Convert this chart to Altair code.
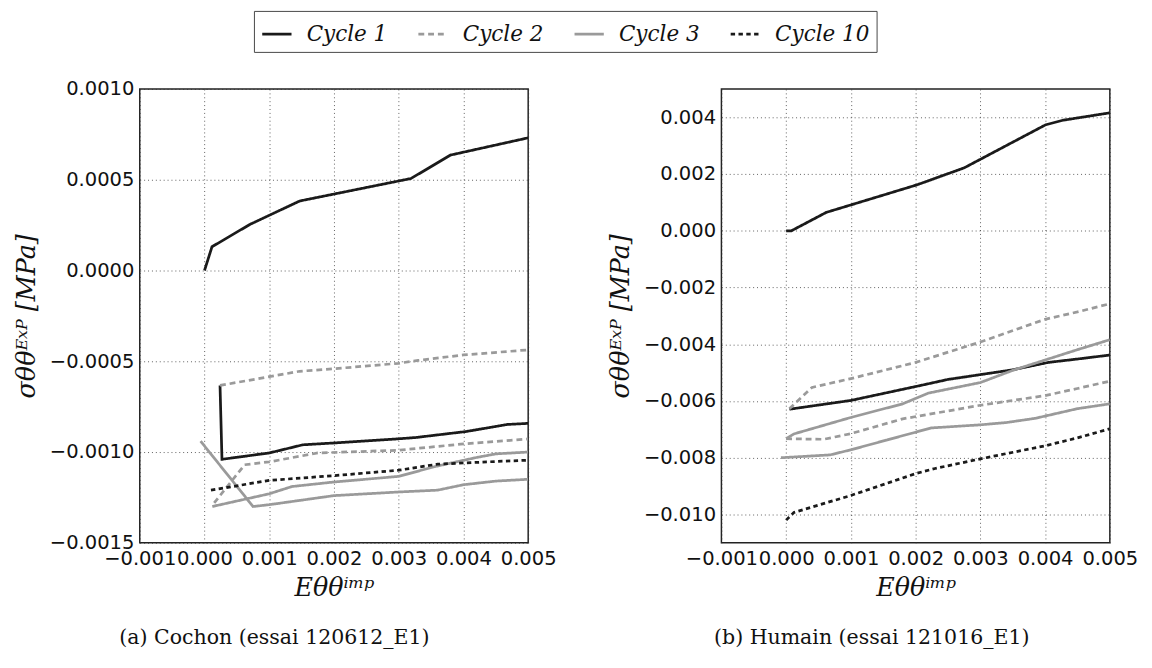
import altair as alt
import pandas as pd

CYCLES = ["Cycle 1", "Cycle 2", "Cycle 3", "Cycle 10"]
COLORS = ["#1a1a1a", "#9a9a9a", "#9a9a9a", "#1a1a1a"]
DASHES = [[1, 0], [6, 4], [1, 0], [4.5, 3.5]]

# ---- Panel (a) Cochon ----
A_C1_UP_X = [0.0, 0.000116, 0.000702, 0.00147, 0.00319, 0.0038, 0.005]
A_C1_UP_Y = [0.0, 0.000131, 0.000254, 0.000383, 0.000507, 0.000636, 0.000731]
A_C1_LO_X = [0.00024, 0.00027, 0.001, 0.00152, 0.002, 0.003, 0.00326, 0.00404, 0.00468, 0.005]
A_C1_LO_Y = [-0.000633, -0.00104, -0.001005, -0.00096, -0.00095, -0.000927, -0.00092, -0.000887, -0.000848, -0.000842]
A_C2_UP_X = [0.00024, 0.001, 0.00147, 0.002, 0.003, 0.0033, 0.004, 0.005]
A_C2_UP_Y = [-0.000633, -0.000585, -0.000555, -0.000541, -0.000511, -0.000495, -0.000465, -0.000437]
A_C2_LO_X = [0.00015, 0.00062, 0.001, 0.00175, 0.003, 0.004, 0.005]
A_C2_LO_Y = [-0.00128, -0.00107, -0.001054, -0.001005, -0.00099, -0.000955, -0.000928]
A_C3_A_X = [-0.00006, 0.00075, 0.001, 0.002, 0.003, 0.0036, 0.004, 0.0045, 0.005]
A_C3_A_Y = [-0.00094, -0.0013, -0.00129, -0.00124, -0.00122, -0.00121, -0.00118, -0.00116, -0.00115]
A_C3_B_X = [0.00012, 0.001, 0.00135, 0.002, 0.003, 0.00356, 0.0042, 0.0045, 0.005]
A_C3_B_Y = [-0.0013, -0.00123, -0.00119, -0.001165, -0.001134, -0.00108, -0.00103, -0.00101, -0.001]
A_C10_X = [0.0001, 0.001, 0.002, 0.003, 0.0036, 0.0045, 0.005]
A_C10_Y = [-0.00121, -0.001156, -0.00113, -0.0011, -0.001067, -0.001052, -0.001045]

# ---- Panel (b) Humain ----
B_C1_UP_X = [0.0, 0.00008, 0.00062, 0.00202, 0.00275, 0.00401, 0.00428, 0.005]
B_C1_UP_Y = [0.0, 0.0, 0.00065, 0.00162, 0.00222, 0.00374, 0.0039, 0.00416]
B_C1_LO_X = [0.00005, 0.001, 0.002, 0.0025, 0.003, 0.0035, 0.00405, 0.0045, 0.005]
B_C1_LO_Y = [-0.00629, -0.00598, -0.00549, -0.00524, -0.00507, -0.0049, -0.00464, -0.00452, -0.00438]
B_C2_UP_X = [0.00005, 0.0004, 0.001, 0.002, 0.003, 0.004, 0.0045, 0.005]
B_C2_UP_Y = [-0.00627, -0.00552, -0.00521, -0.00464, -0.00392, -0.00312, -0.00286, -0.00257]
B_C2_LO_X = [0.0, 0.00058, 0.001, 0.0018, 0.003, 0.0035, 0.004, 0.0045, 0.005]
B_C2_LO_Y = [-0.00733, -0.00735, -0.00715, -0.00663, -0.00615, -0.00598, -0.00581, -0.00556, -0.0053]
B_C3_A_X = [0.0, 0.00012, 0.001, 0.0018, 0.0022, 0.003, 0.0035, 0.0045, 0.005]
B_C3_A_Y = [-0.00733, -0.00716, -0.00658, -0.0061, -0.00572, -0.00535, -0.00492, -0.00419, -0.00384]
B_C3_B_X = [-0.00008, 0.00068, 0.001, 0.00224, 0.003, 0.0034, 0.00385, 0.0045, 0.005]
B_C3_B_Y = [-0.008, -0.0079, -0.00772, -0.00695, -0.00684, -0.00676, -0.00661, -0.00627, -0.0061]
B_C10_X = [0.0, 0.00012, 0.001, 0.002, 0.0023, 0.003, 0.004, 0.0045, 0.005]
B_C10_Y = [-0.0102, -0.00993, -0.00933, -0.00856, -0.00838, -0.00804, -0.00758, -0.0073, -0.00698]

X_TICKS = [-0.001, 0.0, 0.001, 0.002, 0.003, 0.004, 0.005]
A_Y_TICKS = [-0.0015, -0.001, -0.0005, 0.0, 0.0005, 0.001]
B_Y_TICKS = [-0.010, -0.008, -0.006, -0.004, -0.002, 0.0, 0.002, 0.004]


def build(segments):
    rows = []
    for seg, cyc, xs, ys in segments:
        for i, (x, y) in enumerate(zip(xs, ys)):
            rows.append({"seg": seg, "cycle": cyc, "i": i, "x": x, "y": y})
    return pd.DataFrame(rows)


df_a = build([
    ("c1up", "Cycle 1", A_C1_UP_X, A_C1_UP_Y),
    ("c1lo", "Cycle 1", A_C1_LO_X, A_C1_LO_Y),
    ("c2up", "Cycle 2", A_C2_UP_X, A_C2_UP_Y),
    ("c2lo", "Cycle 2", A_C2_LO_X, A_C2_LO_Y),
    ("c3a", "Cycle 3", A_C3_A_X, A_C3_A_Y),
    ("c3b", "Cycle 3", A_C3_B_X, A_C3_B_Y),
    ("c10", "Cycle 10", A_C10_X, A_C10_Y),
])
df_b = build([
    ("c1up", "Cycle 1", B_C1_UP_X, B_C1_UP_Y),
    ("c1lo", "Cycle 1", B_C1_LO_X, B_C1_LO_Y),
    ("c2up", "Cycle 2", B_C2_UP_X, B_C2_UP_Y),
    ("c2lo", "Cycle 2", B_C2_LO_X, B_C2_LO_Y),
    ("c3a", "Cycle 3", B_C3_A_X, B_C3_A_Y),
    ("c3b", "Cycle 3", B_C3_B_X, B_C3_B_Y),
    ("c10", "Cycle 10", B_C10_X, B_C10_Y),
])

legend = alt.Legend(
    title=None, orient="none", legendX=117, legendY=-80, direction="horizontal",
    columns=4, symbolType="stroke", symbolSize=900, symbolStrokeWidth=2.8,
    labelFont="DejaVu Serif", labelFontStyle="italic", labelFontSize=22,
    labelColor="#111", columnPadding=25, padding=7, strokeColor="#444",
    fillColor="white", labelOffset=14,
)
color = alt.Color("cycle:N", scale=alt.Scale(domain=CYCLES, range=COLORS), legend=legend)
dash = alt.StrokeDash("cycle:N", scale=alt.Scale(domain=CYCLES, range=DASHES), legend=legend)

y_title = "σθθᴱˣᴾ [MPa]"
x_title = "Eθθⁱᵐᵖ"


def panel(df, ydom, yticks, yfmt, caption, cdx):
    return alt.Chart(df).mark_line(strokeWidth=2.8, clip=True).encode(
        x=alt.X("x:Q", scale=alt.Scale(domain=[-0.001, 0.005], nice=False, zero=False),
                axis=alt.Axis(values=X_TICKS, format=".3f", title=x_title,
                              labelFlush=False, labelOverlap=False)),
        y=alt.Y("y:Q", scale=alt.Scale(domain=ydom, nice=False, zero=False),
                axis=alt.Axis(values=yticks, format=yfmt, title=y_title,
                              labelOverlap=False, labelFlush=False)),
        color=color,
        strokeDash=dash,
        detail="seg:N",
        order="i:Q",
    ).properties(
        width=398, height=465,
        title=alt.TitleParams(caption, orient="bottom", font="DejaVu Serif",
                              fontSize=21, fontWeight="normal", offset=28, dx=cdx,
                              color="#111"),
    )


left = panel(df_a, [-0.0015, 0.001], A_Y_TICKS, ".4f", "(a) Cochon (essai 120612_E1)", -61)
right = panel(df_b, [-0.011, 0.005], B_Y_TICKS, ".3f", "(b) Humain (essai 121016_E1)", -45)

chart = alt.hconcat(left, right, spacing=51).resolve_scale(y="independent").properties(
    padding={"top": -6, "left": 5, "right": 5, "bottom": 0}
).configure_view(
    stroke="#222", strokeWidth=1.5
).configure_axis(
    labelFont="DejaVu Sans", labelFontSize=20, labelColor="#111", labelPadding=6,
    titleFont="DejaVu Serif", titleFontStyle="italic", titleFontWeight="normal",
    titleFontSize=26, titleColor="#111",
    grid=True, gridDash=[1, 3], gridColor="#333", gridWidth=1, gridOpacity=0.8,
    domain=False, ticks=False,
).configure_axisY(titlePadding=10).configure_axisX(titlePadding=7)

chart.save("out.html", embed_options={"renderer": "svg", "actions": False})
